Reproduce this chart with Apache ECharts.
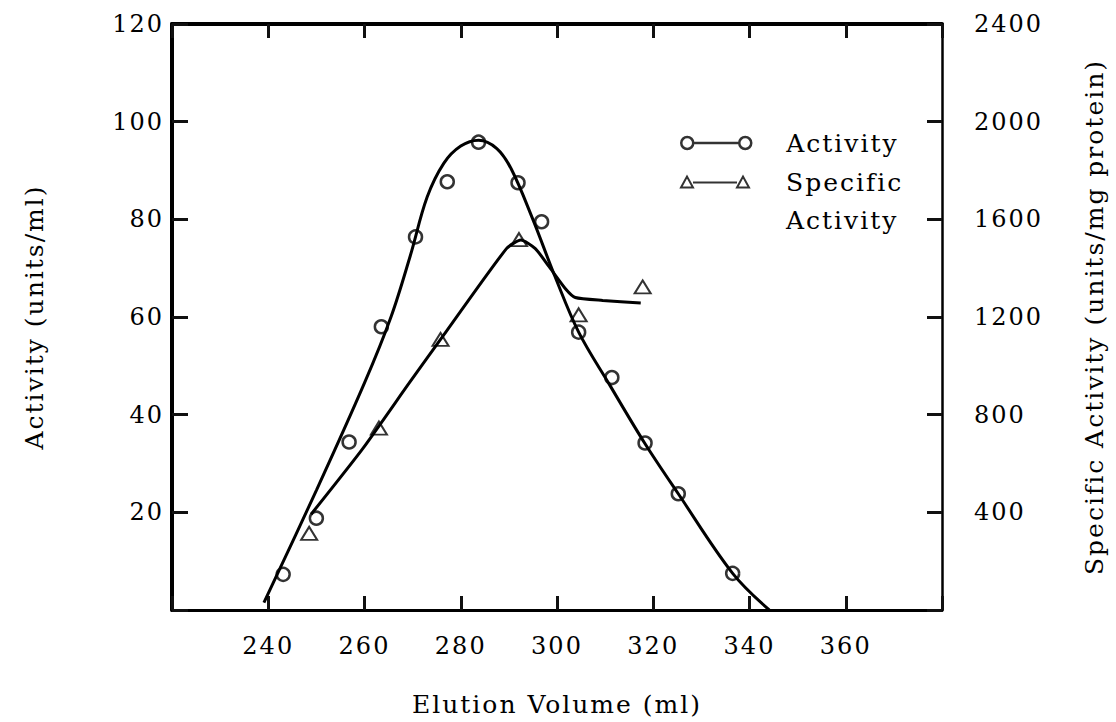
<!DOCTYPE html>
<html>
<head>
<meta charset="utf-8">
<script src="https://cdn.jsdelivr.net/npm/echarts@6/dist/echarts.min.js"></script>
<style>
  html, body { margin: 0; padding: 0; background: #fff; }
  #chart { width: 1116px; height: 722px; }
  #chart text { letter-spacing: 2px; }
</style>
</head>
<body>
<div id="chart"></div>
<script>
// Measured fractions: elution volume (ml) vs activity (units/ml)
const activityVolume = [243.1, 250.0, 256.8, 263.5, 270.6, 277.2, 283.7, 291.9, 296.8, 304.5, 311.4, 318.3, 325.2, 336.5];
const activityValue  = [7.3, 18.8, 34.4, 58.0, 76.4, 87.7, 95.8, 87.5, 79.5, 56.9, 47.6, 34.2, 23.8, 7.5];

// Specific activity (units/mg protein), right-hand scale
const specificVolume = [248.5, 263.0, 275.8, 292.1, 304.5, 317.8];
const specificValue  = [314, 745, 1108, 1517, 1209, 1323];

// Hand-fitted curves drawn through the points
const activityCurveVolume = [239.1, 250.0, 260.0, 265.5, 269.5, 273.0, 276.5, 280.0, 283.7, 287.5, 290.5, 294.9, 299.5, 304.5, 311.0, 318.2, 325.2, 336.5, 344.1];
const activityCurveValue  = [1.5, 24.5, 46.5, 60.0, 72.5, 84.5, 91.5, 95.0, 96.2, 94.5, 90.3, 80.2, 68.5, 56.9, 46.0, 34.2, 23.8, 7.5, 0];

const specificCurveVolume = [248.9, 259.6, 269.3, 275.8, 289.5, 292.5, 295.5, 298.4, 301.8, 303.8, 309.5, 317.4];
const specificCurveValue  = [392, 660, 930, 1108, 1480, 1515, 1480, 1405, 1315, 1280, 1268, 1257];

// Axis ranges and tick steps
const volumeRange = [220, 380, 20];
const activityRange = [0, 120, 20];
const specificRange = [0, 2400, 400];

const zip = (xs, ys) => xs.map((x, i) => [x, ys[i]]);

const FONT = 'DejaVu Serif';
const INK = '#000';

const circleIcon = 'path://M1,7 a6,6 0 1,0 12,0 a6,6 0 1,0 -12,0 M13,7 L59,7 M59,7 a6,6 0 1,0 12,0 a6,6 0 1,0 -12,0';
const triangleIcon = 'path://M1,13 L7,2 L13,13 Z M13,8 L57,8 M57,13 L63,2 L69,13 Z';

const chart = echarts.init(document.getElementById('chart'), null, { renderer: 'svg' });

// ticks point into the plotting frame
const tick = len => ({ show: true, inside: true, length: len, lineStyle: { color: '#111', width: 3 } });
const label = (margin, keep) => ({
  margin, color: INK, fontFamily: FONT, fontSize: 24,
  formatter: v => keep(v) ? String(v) : ''
});

const baseX = {
  type: 'value',
  min: volumeRange[0], max: volumeRange[1], interval: volumeRange[2],
  splitLine: { show: false }
};

chart.setOption({
  backgroundColor: '#fff',
  animation: false,
  grid: { left: 172, right: 174, top: 24, bottom: 112 },
  xAxis: [
    Object.assign({}, baseX, {
      position: 'bottom',
      axisLine: { show: true, lineStyle: { color: INK, width: 3 } },
      axisTick: tick(14),
      axisLabel: label(24, v => v >= 240 && v <= 360),
      name: 'Elution Volume (ml)',
      nameLocation: 'middle',
      nameGap: 82,
      nameTextStyle: { color: INK, fontFamily: FONT, fontSize: 25 }
    }),
    Object.assign({}, baseX, {
      position: 'top',
      axisLine: { show: true, onZero: false, lineStyle: { color: INK, width: 4 } },
      axisTick: tick(14),
      axisLabel: { show: false }
    })
  ],
  yAxis: [
    {
      type: 'value', position: 'left',
      min: activityRange[0], max: activityRange[1], interval: activityRange[2],
      splitLine: { show: false },
      axisLine: { show: true, lineStyle: { color: INK, width: 4 } },
      axisTick: tick(16),
      axisLabel: label(8, v => v !== 0),
      name: 'Activity (units/ml)',
      nameLocation: 'middle', nameRotate: 90, nameGap: 125,
      nameTextStyle: { color: INK, fontFamily: FONT, fontSize: 25 }
    },
    {
      type: 'value', position: 'right',
      min: specificRange[0], max: specificRange[1], interval: specificRange[2],
      splitLine: { show: false },
      axisLine: { show: true, lineStyle: { color: INK, width: 2.5 } },
      axisTick: tick(15),
      axisLabel: label(32, v => v !== 0),
      name: 'Specific Activity (units/mg protein)',
      nameLocation: 'middle', nameRotate: 90, nameGap: 140,
      nameTextStyle: { color: INK, fontFamily: FONT, fontSize: 25 }
    }
  ],
  legend: [
    {
      data: ['Activity'],
      left: 680, top: 128, padding: 0,
      orient: 'vertical',
      icon: circleIcon, itemWidth: 70, itemHeight: 12,
      itemStyle: { color: 'rgba(0,0,0,0)', borderColor: INK, borderWidth: 2.5 },
      textStyle: { color: INK, fontFamily: FONT, fontSize: 25, lineHeight: 30, padding: [0, 0, 0, 30] }
    },
    {
      data: ['Specific Activity'],
      left: 680, top: 125, padding: 0,
      orient: 'vertical',
      icon: triangleIcon, itemWidth: 68, itemHeight: 12,
      itemStyle: { color: 'rgba(0,0,0,0)', borderColor: INK, borderWidth: 2 },
      formatter: () => '\nSpecific\nActivity',
      textStyle: { color: INK, fontFamily: FONT, fontSize: 25, lineHeight: 38, padding: [0, 0, 0, 32] }
    }
  ],
  series: [
    {
      name: 'Activity fit', type: 'line', xAxisIndex: 0, yAxisIndex: 0,
      data: zip(activityCurveVolume, activityCurveValue),
      smooth: 0.35, showSymbol: false, symbol: 'none',
      lineStyle: { color: INK, width: 3 }, z: 2
    },
    {
      name: 'Specific Activity fit', type: 'line', xAxisIndex: 0, yAxisIndex: 1,
      data: zip(specificCurveVolume, specificCurveValue),
      smooth: 0.2, showSymbol: false, symbol: 'none',
      lineStyle: { color: INK, width: 3 }, z: 2
    },
    {
      name: 'Activity', type: 'scatter', xAxisIndex: 0, yAxisIndex: 0,
      data: zip(activityVolume, activityValue),
      symbol: 'circle', symbolSize: 13,
      itemStyle: { color: 'rgba(0,0,0,0)', borderColor: INK, borderWidth: 2.5 }, z: 3
    },
    {
      name: 'Specific Activity', type: 'scatter', xAxisIndex: 0, yAxisIndex: 1,
      data: zip(specificVolume, specificValue),
      symbol: 'triangle', symbolSize: [16, 13],
      itemStyle: { color: 'rgba(0,0,0,0)', borderColor: INK, borderWidth: 2 }, z: 3
    }
  ]
});
</script>
</body>
</html>
